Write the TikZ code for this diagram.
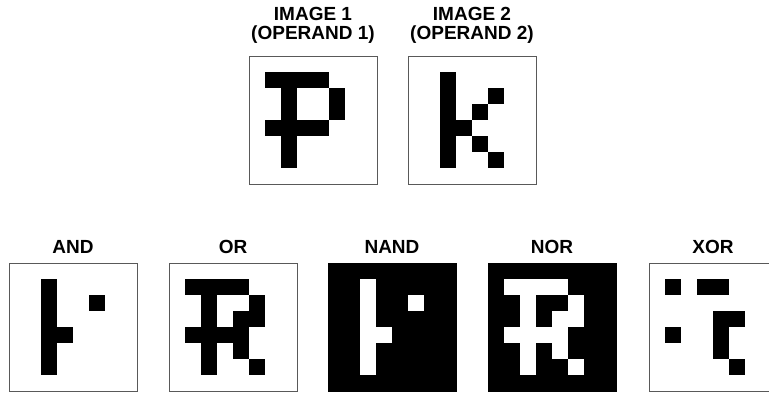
\documentclass[tikz,border=0pt]{standalone}
\usepackage{fontspec}
\setmainfont{Liberation Sans}
% pixel lists (column/row) on an 8x8 grid
\def\pcells{1/1,2/1,3/1,4/1,2/2,5/2,2/3,5/3,1/4,2/4,3/4,4/4,2/5,2/6}
\def\kcells{2/1,2/2,2/3,2/4,2/5,2/6,3/4,4/3,4/5,5/2,5/6}
\def\andcells{2/1,2/2,2/3,2/4,2/5,2/6,3/4,5/2}
\def\orcells{1/1,2/1,3/1,4/1,2/2,5/2,2/3,4/3,5/3,1/4,2/4,3/4,4/4,2/5,4/5,2/6,5/6}
\def\xorcells{1/1,3/1,4/1,4/3,5/3,1/4,4/4,4/5,5/6}
\begin{document}
\begin{tikzpicture}[x=1pt,y=-1pt,line width=1pt]
  \tikzset{lbl/.style={font=\fontsize{19}{19}\selectfont\bfseries, align=center},
    frame/.style={draw=black!65}}
  \useasboundingbox (0,0) rectangle (769,392);
  % operands
  \node[lbl] (lblImgA) at (313,25) {IMAGE 1\\(OPERAND 1)};
  \node[lbl] (lblImgB) at (472,25) {IMAGE 2\\(OPERAND 2)};
  \begin{scope}[shift={(249,56)}]
    \draw[frame] (0,0) rectangle (128,128);
    \foreach \c/\r in \pcells \fill (16*\c,16*\r) rectangle ++(16,16);
  \end{scope}
  \begin{scope}[shift={(408,56)}]
    \draw[frame] (0,0) rectangle (128,128);
    \foreach \c/\r in \kcells \fill (16*\c,16*\r) rectangle ++(16,16);
  \end{scope}
  % results
  \node[lbl] (lblAnd) at (73,247) {AND};
  \node[lbl] (lblOr) at (233,247) {OR};
  \node[lbl] (lblNand) at (392,247) {NAND};
  \node[lbl] (lblNor) at (552,247) {NOR};
  \node[lbl] (lblXor) at (713,247) {XOR};
  \begin{scope}[shift={(9,263)}]
    \draw[frame] (0,0) rectangle (128,128);
    \foreach \c/\r in \andcells \fill (16*\c,16*\r) rectangle ++(16,16);
  \end{scope}
  \begin{scope}[shift={(169,263)}]
    \draw[frame] (0,0) rectangle (128,128);
    \foreach \c/\r in \orcells \fill (16*\c,16*\r) rectangle ++(16,16);
  \end{scope}
  \begin{scope}[shift={(328,263)}]
    \fill (0,0) rectangle (129,129);
    \foreach \c/\r in \andcells \fill[white] (16*\c,16*\r) rectangle ++(16,16);
  \end{scope}
  \begin{scope}[shift={(488,263)}]
    \fill (0,0) rectangle (129,129);
    \foreach \c/\r in \orcells \fill[white] (16*\c,16*\r) rectangle ++(16,16);
  \end{scope}
  \begin{scope}[shift={(649,263)}]
    \draw[frame] (0,0) rectangle (128,128);
    \foreach \c/\r in \xorcells \fill (16*\c,16*\r) rectangle ++(16,16);
  \end{scope}
\end{tikzpicture}
\end{document}
